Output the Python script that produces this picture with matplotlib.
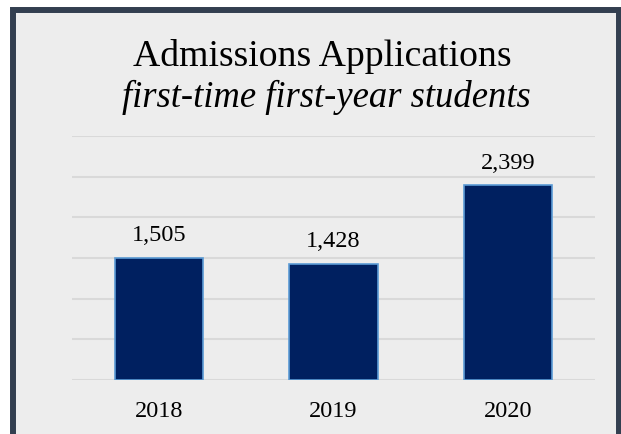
import matplotlib
matplotlib.use("Agg")
import matplotlib.pyplot as plt
from matplotlib.patches import Rectangle

years = ["2018", "2019", "2020"]
applications = [1505, 1428, 2399]
value_labels = ["1,505", "1,428", "2,399"]

W, H = 621, 435
fig = plt.figure(figsize=(W / 100, H / 100), dpi=100, facecolor="white")

# panel background with dark border (bottom edge outside the image)
panel = Rectangle((13 / W, -0.2), (618.5 - 13) / W, 1.2 - 11 / H,
                  transform=fig.transFigure, facecolor="#EDEDED",
                  edgecolor="#333F50", linewidth=4.3, zorder=-10)
fig.patches.append(panel)

ax = fig.add_axes([72 / W, 1 - 381 / H, (595 - 72) / W, (381 - 137) / H])
ax.set_zorder(5)
ax.set_facecolor("none")
x = range(len(years))
ax.bar(x, applications, width=0.505, color="#002060", edgecolor="#5B9BD5",
       linewidth=1.2, zorder=3)
ax.set_xlim(-0.5, 2.5)
ax.set_ylim(0, 3000)
ax.set_yticks(range(0, 3001, 500))
ax.yaxis.grid(True, color="#D9D9D9", linewidth=1.5, zorder=0)
ax.set_axisbelow(True)
for s in ax.spines.values():
    s.set_visible(False)
ax.tick_params(left=False, bottom=False, labelleft=False)
ax.set_xticks(list(x))
ax.set_xticklabels(years, fontfamily="Liberation Serif", fontsize=17.5)
ax.tick_params(axis="x", pad=11)
for xi, v, lab in zip(x, applications, value_labels):
    ax.annotate(lab, (xi, v), xytext=(0, 12.5), textcoords="offset points",
                ha="center", va="baseline", fontfamily="Liberation Serif", fontsize=17.5)

fig.text(322 / W, 1 - 56 / H, "Admissions Applications", ha="center", va="center",
         fontfamily="Liberation Serif", fontsize=27.2)
fig.text(326 / W, 1 - 97 / H, "first-time first-year students", ha="center", va="center",
         fontfamily="Liberation Serif", fontstyle="italic", fontsize=26.4)

fig.savefig("out.png", dpi=100, facecolor="white")
